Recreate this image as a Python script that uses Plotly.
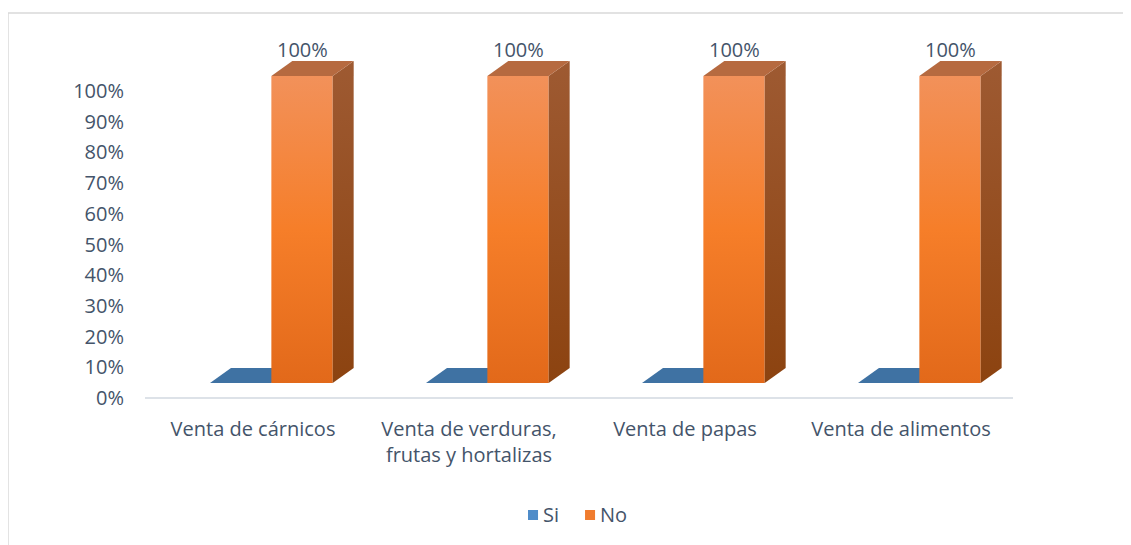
import plotly.graph_objects as go

# data
categories = ["Venta de cárnicos", "Venta de verduras,<br>frutas y hortalizas",
              "Venta de papas", "Venta de alimentos"]
series = ["Si", "No"]
si = [0.0, 0.0, 0.0, 0.0]
no = [1.0, 1.0, 1.0, 1.0]
y_ticks = [0, 0.1, 0.2, 0.3, 0.4, 0.5, 0.6, 0.7, 0.8, 0.9, 1.0]

# fake 3d look
FO = 0.049      # floor offset of front face
D = 0.049       # depth in y units
DX = 0.097      # depth in x units
W = 0.284       # bar width
START = 0.301   # left of first bar in a category

TXT = "#44546a"
FONT = "Open Sans"
FS = 20

fig = go.Figure()


def poly(xs, ys, grad=None, color=None):
    kw = dict(x=xs, y=ys, mode="lines", fill="toself", line=dict(width=0),
              showlegend=False, hoverinfo="skip")
    if grad:
        kw["fillgradient"] = dict(type="vertical", colorscale=grad)
    else:
        kw["fillcolor"] = color
    fig.add_trace(go.Scatter(**kw))


def box(x0, v, front, side, top):
    x1 = x0 + W
    if v > 0:
        poly([x0, x1, x1, x0, x0], [FO, FO, FO + v, FO + v, FO], grad=front)
        poly([x1, x1 + DX, x1 + DX, x1, x1], [FO, FO + D, FO + v + D, FO + v, FO], grad=side)
    poly([x0, x1, x1 + DX, x0 + DX, x0], [FO + v, FO + v, FO + v + D, FO + v + D, FO + v], color=top)


orange_front = [[0, "#e2691a"], [0.5, "#f67e29"], [1, "#f2915a"]]
orange_side = [[0, "#8c4310"], [1, "#9e5a32"]]
blue_front = [[0, "#3a6a98"], [1, "#5b93c9"]]
blue_side = [[0, "#2c5177"], [1, "#36608a"]]

for i in range(len(categories)):
    xb = i + START
    box(xb, si[i], blue_front, blue_side, "#3f72a3")
    xo = xb + W
    box(xo, no[i], orange_front, orange_side, "#b66a40")
    fig.add_annotation(x=xo + W / 2, y=FO + no[i] + D, text=f"{no[i]:.0%}",
                       showarrow=False, yanchor="bottom", yshift=-4,
                       font=dict(size=FS, color=TXT, family=FONT))

# legend, drawn by hand (excel style: small square right next to text)
leg_colors = ["#4f8cc9", "#f07c2e"]
leg_x = [0.4433, 0.5093]
for name, col, lx in zip(series, leg_colors, leg_x):
    fig.add_shape(type="rect", xref="paper", yref="paper", x0=lx, x1=lx + 0.0116,
                  y0=-0.3456, y1=-0.3173, fillcolor=col, line=dict(width=0))
    fig.add_annotation(xref="paper", yref="paper", x=lx + 0.0150, y=-0.3314,
                       text=name, showarrow=False, xanchor="left", yanchor="middle",
                       font=dict(size=FS, color=TXT, family=FONT))

# outer frame and floor line
fig.add_shape(type="rect", xref="paper", yref="paper", x0=-0.1586, x1=1.3,
              y0=-0.7, y1=1.0907, line=dict(color="#d9d9d9", width=1.5), layer="below")
fig.add_shape(type="line", xref="paper", yref="paper", x0=0, x1=1.0046, y0=0, y1=0,
              line=dict(color="#dde2e8", width=2))

fig.update_layout(
    width=1131, height=545, autosize=False,
    margin=dict(l=137, r=130, t=37, b=155),
    plot_bgcolor="white", paper_bgcolor="white",
    font=dict(family=FONT, size=FS, color=TXT),
    showlegend=False,
    xaxis=dict(range=[0, 4], tickvals=[i + 0.5 for i in range(len(categories))],
               ticktext=categories, showgrid=False, zeroline=False, ticks="",
               showline=False, ticklabelstandoff=17, fixedrange=True),
    yaxis=dict(range=[0, 1.15], tickvals=y_ticks, tickformat=".0%",
               showgrid=False, zeroline=False, ticks="", showline=False,
               ticklabelstandoff=20, fixedrange=True),
)

fig.write_html("out.html")
